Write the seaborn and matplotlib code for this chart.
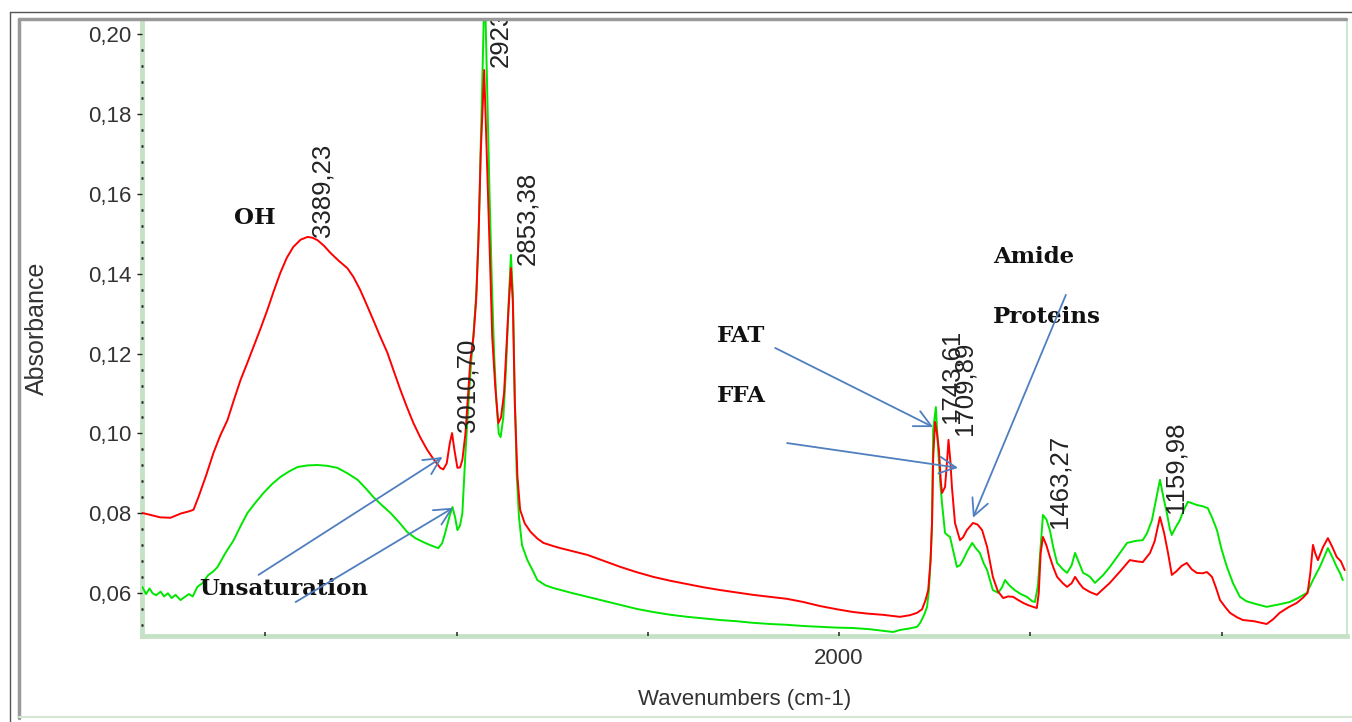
import matplotlib
matplotlib.use('Agg')
import matplotlib.pyplot as plt
from matplotlib.ticker import FixedLocator, FuncFormatter, MultipleLocator
from matplotlib.lines import Line2D
import seaborn as sns

# red spectrum
red_wn = [3822, 3800, 3775, 3748, 3720, 3700, 3688, 3675, 3655, 3636, 3618, 3599, 3582, 3565, 3548,
          3531, 3513, 3495, 3478, 3461, 3444, 3427, 3408, 3390, 3377, 3364, 3347, 3330, 3308, 3286,
          3270, 3252, 3235, 3218, 3200, 3181, 3164, 3147, 3130, 3113, 3095, 3077, 3060, 3043, 3035,
          3026, 3018, 3012, 3006, 2998, 2991, 2985, 2977, 2970, 2964, 2956, 2949, 2943, 2937, 2928,
          2920, 2912, 2907, 2899, 2891, 2884, 2876, 2866, 2858, 2853, 2848, 2841, 2834, 2822, 2807,
          2789, 2773, 2747, 2729, 2700, 2658, 2615, 2572, 2530, 2486, 2440, 2397, 2355, 2311, 2268,
          2225, 2180, 2136, 2093, 2050, 2006, 1963, 1925, 1885, 1860, 1841, 1815, 1796, 1783, 1774,
          1767, 1761, 1757, 1754, 1749, 1744, 1739, 1734, 1731, 1723, 1717, 1714, 1709, 1705, 1697,
          1684, 1676, 1666, 1650, 1638, 1626, 1613, 1598, 1585, 1571, 1558, 1545, 1530, 1519, 1505,
          1493, 1483, 1478, 1473, 1467, 1458, 1449, 1440, 1430, 1415, 1404, 1392, 1383, 1372, 1362,
          1344, 1326, 1310, 1292, 1265, 1240, 1222, 1206, 1187, 1175, 1161, 1150, 1140, 1130, 1118,
          1105, 1091, 1078, 1065, 1050, 1038, 1025, 1015, 1004, 990, 978, 960, 944, 915, 882,
          865, 848, 825, 803, 788, 775, 768, 761, 755, 748, 735, 722, 710, 699, 688, 678]
red_abs = [0.0801, 0.0796, 0.0790, 0.0789, 0.0800, 0.0805, 0.0809, 0.0841, 0.0895, 0.0951, 0.0995, 0.1034, 0.1085, 0.1134, 0.1175,
           0.1217, 0.1262, 0.1309, 0.1357, 0.1402, 0.1440, 0.1467, 0.1485, 0.1492, 0.1490, 0.1484, 0.1470, 0.1452, 0.1432, 0.1414,
           0.1392, 0.1359, 0.1322, 0.1284, 0.1243, 0.1202, 0.1155, 0.1109, 0.1066, 0.1026, 0.0990, 0.0959, 0.0935, 0.0914, 0.0910,
           0.0925, 0.0975, 0.1001, 0.0960, 0.0914, 0.0915, 0.0934, 0.1000, 0.1100, 0.1184, 0.1242, 0.1334, 0.1484, 0.1702, 0.1910,
           0.1660, 0.1409, 0.1242, 0.1116, 0.1026, 0.1040, 0.1101, 0.1284, 0.1414, 0.1327, 0.1076, 0.0891, 0.0809, 0.0775, 0.0754,
           0.0737, 0.0726, 0.0718, 0.0713, 0.0706, 0.0696, 0.0681, 0.0666, 0.0653, 0.0641, 0.0631, 0.0623, 0.0615, 0.0608, 0.0602,
           0.0596, 0.0591, 0.0586, 0.0578, 0.0568, 0.0560, 0.0553, 0.0549, 0.0546, 0.0543, 0.0541, 0.0545, 0.0551, 0.0560, 0.0583,
           0.0608, 0.0680, 0.0776, 0.0940, 0.1029, 0.1000, 0.0959, 0.0880, 0.0851, 0.0866, 0.0940, 0.0984, 0.0930, 0.0866, 0.0776,
           0.0733, 0.0740, 0.0758, 0.0776, 0.0772, 0.0758, 0.0716, 0.0641, 0.0605, 0.0588, 0.0592, 0.0591, 0.0582, 0.0576, 0.0570,
           0.0566, 0.0563, 0.0600, 0.0700, 0.0741, 0.0720, 0.0691, 0.0665, 0.0641, 0.0625, 0.0616, 0.0625, 0.0641, 0.0625, 0.0613,
           0.0603, 0.0596, 0.0610, 0.0626, 0.0655, 0.0683, 0.0680, 0.0678, 0.0701, 0.0730, 0.0791, 0.0750, 0.0701, 0.0646, 0.0655,
           0.0668, 0.0676, 0.0660, 0.0651, 0.0650, 0.0653, 0.0641, 0.0615, 0.0583, 0.0565, 0.0551, 0.0540, 0.0533, 0.0530, 0.0523,
           0.0535, 0.0551, 0.0565, 0.0576, 0.0588, 0.0601, 0.0650, 0.0721, 0.0700, 0.0683, 0.0715, 0.0738, 0.0715, 0.0691, 0.0680, 0.0658]

# green spectrum
green_wn = [3822, 3812, 3803, 3795, 3786, 3774, 3765, 3755, 3745, 3735, 3722, 3712, 3700, 3690, 3678,
            3665, 3650, 3636, 3625, 3605, 3583, 3565, 3547, 3525, 3505, 3483, 3461, 3438, 3416, 3390,
            3364, 3338, 3312, 3285, 3259, 3238, 3218, 3195, 3173, 3150, 3129, 3108, 3087, 3068, 3048,
            3038, 3030, 3018, 3011, 3004, 2998, 2991, 2985, 2977, 2969, 2962, 2955, 2948, 2942, 2936,
            2930, 2927, 2921, 2914, 2908, 2902, 2896, 2890, 2885, 2878, 2871, 2864, 2858, 2853, 2848,
            2843, 2837, 2829, 2815, 2800, 2789, 2768, 2747, 2700, 2658, 2615, 2572, 2530, 2486, 2440,
            2397, 2355, 2311, 2268, 2225, 2180, 2136, 2093, 2050, 2006, 1963, 1920, 1885, 1859, 1841,
            1815, 1796, 1788, 1778, 1770, 1765, 1760, 1757, 1754, 1747, 1741, 1735, 1731, 1723, 1716,
            1710, 1700, 1692, 1684, 1676, 1665, 1652, 1642, 1632, 1622, 1613, 1603, 1598, 1584, 1574,
            1566, 1555, 1541, 1525, 1509, 1495, 1488, 1480, 1475, 1467, 1458, 1449, 1440, 1430, 1415,
            1404, 1392, 1383, 1372, 1362, 1350, 1344, 1331, 1310, 1292, 1270, 1247, 1225, 1206, 1195,
            1182, 1170, 1161, 1152, 1143, 1135, 1130, 1120, 1109, 1098, 1088, 1076, 1065, 1050, 1036,
            1025, 1012, 1000, 986, 970, 952, 935, 910, 882, 850, 822, 800, 777, 760, 743,
            732, 722, 710, 699, 690, 683]
green_abs = [0.0616, 0.0598, 0.0612, 0.0600, 0.0595, 0.0604, 0.0592, 0.0600, 0.0588, 0.0596, 0.0583, 0.0590, 0.0598, 0.0592, 0.0616,
             0.0625, 0.0645, 0.0655, 0.0666, 0.0700, 0.0733, 0.0768, 0.0801, 0.0828, 0.0851, 0.0873, 0.0891, 0.0905, 0.0916, 0.0920,
             0.0921, 0.0919, 0.0914, 0.0900, 0.0884, 0.0863, 0.0841, 0.0820, 0.0801, 0.0777, 0.0753, 0.0738, 0.0728, 0.0720, 0.0713,
             0.0725, 0.0751, 0.0795, 0.0816, 0.0790, 0.0758, 0.0770, 0.0801, 0.0951, 0.1076, 0.1180, 0.1260, 0.1360, 0.1520, 0.1760,
             0.2000, 0.2150, 0.1900, 0.1600, 0.1380, 0.1200, 0.1080, 0.1000, 0.0991, 0.1040, 0.1160, 0.1330, 0.1447, 0.1350, 0.1100,
             0.0900, 0.0790, 0.0720, 0.0683, 0.0655, 0.0633, 0.0620, 0.0613, 0.0601, 0.0591, 0.0581, 0.0571, 0.0561, 0.0553, 0.0546,
             0.0541, 0.0537, 0.0533, 0.0530, 0.0526, 0.0523, 0.0521, 0.0518, 0.0516, 0.0514, 0.0513, 0.0510, 0.0506, 0.0503, 0.0508,
             0.0512, 0.0516, 0.0526, 0.0545, 0.0566, 0.0610, 0.0700, 0.0776, 0.1009, 0.1066, 0.0959, 0.0870, 0.0826, 0.0751, 0.0745,
             0.0741, 0.0700, 0.0666, 0.0670, 0.0683, 0.0705, 0.0726, 0.0712, 0.0701, 0.0675, 0.0658, 0.0625, 0.0608, 0.0601, 0.0615,
             0.0633, 0.0620, 0.0608, 0.0598, 0.0591, 0.0580, 0.0578, 0.0620, 0.0691, 0.0796, 0.0785, 0.0758, 0.0715, 0.0676, 0.0660,
             0.0651, 0.0670, 0.0701, 0.0675, 0.0651, 0.0645, 0.0641, 0.0626, 0.0645, 0.0666, 0.0695, 0.0726, 0.0731, 0.0733, 0.0750,
             0.0783, 0.0840, 0.0884, 0.0840, 0.0801, 0.0760, 0.0746, 0.0765, 0.0783, 0.0810, 0.0829, 0.0825, 0.0821, 0.0818, 0.0813,
             0.0790, 0.0758, 0.0710, 0.0666, 0.0625, 0.0591, 0.0580, 0.0573, 0.0566, 0.0572, 0.0578, 0.0588, 0.0601, 0.0635, 0.0666,
             0.0690, 0.0713, 0.0690, 0.0666, 0.0650, 0.0633]

# peak labels (placed on the red trace)
peak_text = ['3389,23', '3010,70', '2923', '2853,38', '1743,61', '1709,89', '1463,27', '1159,98']
peak_wn = [3389.23, 3010.70, 2923.0, 2853.38, 1743.61, 1709.89, 1463.27, 1159.98]
peak_abs = [0.1492, 0.1004, 0.1917, 0.1422, 0.1026, 0.0996, 0.0764, 0.0801]

# band assignments and arrows
band_text = ['OH', 'Unsaturation', 'FAT', 'FFA', 'Amide', 'Proteins']
band_wn = [3583, 3672, 2319, 2319, 1598, 1598]
band_abs = [0.1539, 0.0611, 0.1244, 0.1094, 0.1442, 0.1292]
arrow_from = [(3518, 0.0646), (3421, 0.0578), (2167, 0.1214), (2136, 0.0976), (1407, 0.1347)]
arrow_to = [(3037, 0.0941), (3009, 0.0814), (1754, 0.1016), (1689, 0.0914), (1650, 0.0789)]

sns.set_style('white')
plt.rcParams['font.family'] = ['Liberation Sans', 'DejaVu Sans']

W, H = 1352, 722
fig = plt.figure(figsize=(W / 100, H / 100), dpi=100)
ax = fig.add_axes([141.5 / W, 1 - 636 / H, (1347 - 141.5) / W, (636 - 20) / H])

sns.lineplot(x=green_wn, y=green_abs, ax=ax, color='#00e600', lw=1.4, sort=False)
sns.lineplot(x=red_wn, y=red_abs, ax=ax, color='#ff0000', lw=1.4, sort=False)

ax.set_xlim(3824, 672)
ax.set_ylim(0.0493, 0.2035)

# peak labels, rotated like the instrument software does
for txt, xw, ya in zip(peak_text, peak_wn, peak_abs):
    ax.annotate(txt, (xw, ya), xytext=(2, 0), textcoords='offset points', rotation=90,
                ha='left', va='bottom', fontsize=18.5, color='#222222', annotation_clip=False,
                clip_on=True)

for txt, xw, ya in zip(band_text, band_wn, band_abs):
    ax.text(xw, ya, txt, ha='left', va='center', fontsize=16.5, fontweight='bold',
            family='DejaVu Serif', color='#111111')

for a, b in zip(arrow_from, arrow_to):
    ax.annotate('', xy=b, xytext=a,
                arrowprops=dict(arrowstyle='->,head_length=0.6,head_width=0.3', color='#4f7fbf',
                                lw=1.3, shrinkA=0, shrinkB=0, mutation_scale=20))

# axes styling: pale green frame, ticks drawn over it
ax.spines['top'].set_visible(False)
for side, lw in [('left', 3.5), ('bottom', 3.5), ('right', 1.2)]:
    ax.spines[side].set_color('#c6e2c6')
    ax.spines[side].set_linewidth(lw)
    ax.spines[side].set_zorder(1)
ax.set_axisbelow(False)

ax.yaxis.set_major_locator(MultipleLocator(0.02))
ax.yaxis.set_minor_locator(MultipleLocator(0.004))
ax.yaxis.set_major_formatter(FuncFormatter(lambda v, p: f'{v:.2f}'.replace('.', ',')))
ax.tick_params(axis='y', which='major', direction='out', length=3.5, width=1, color='#222222',
               labelsize=16, labelcolor='#333333', pad=4, left=True)
ax.tick_params(axis='y', which='minor', direction='inout', length=1.8, width=1.8, color='#222222', left=True)

ax.xaxis.set_major_locator(FixedLocator([3500, 3000, 2500, 2000, 1500, 1000]))
ax.xaxis.set_major_formatter(FuncFormatter(lambda v, p: '2000' if v == 2000 else ''))
ax.tick_params(axis='x', which='major', direction='in', length=3, width=1.2, color='#333333',
               labelsize=16, labelcolor='#333333', pad=9, bottom=True)

ax.set_xlabel('Wavenumbers (cm-1)', fontsize=16, color='#333333')
ax.set_ylabel('Absorbance', fontsize=18, color='#333333')
ax.xaxis.set_label_coords(0.5, -0.086)
ax.yaxis.set_label_coords(-0.077, 0.5)


# window frame around the plot
def px_line(x0, y0, x1, y1, **kw):
    fig.add_artist(Line2D([x0 / W, x1 / W], [1 - y0 / H, 1 - y1 / H], transform=fig.transFigure, **kw))


px_line(10, 12, 10, H, color='#555555', lw=1)
px_line(10, 12, W, 12, color='#555555', lw=1)
px_line(19, 19, 19, 718, color='#999999', lw=2.5)
px_line(19, 19, 1346, 19, color='#999999', lw=2.5)
px_line(19, 717, W, 717, color='#d5e6d5', lw=1.5)

fig.savefig('out.png', dpi=100)
